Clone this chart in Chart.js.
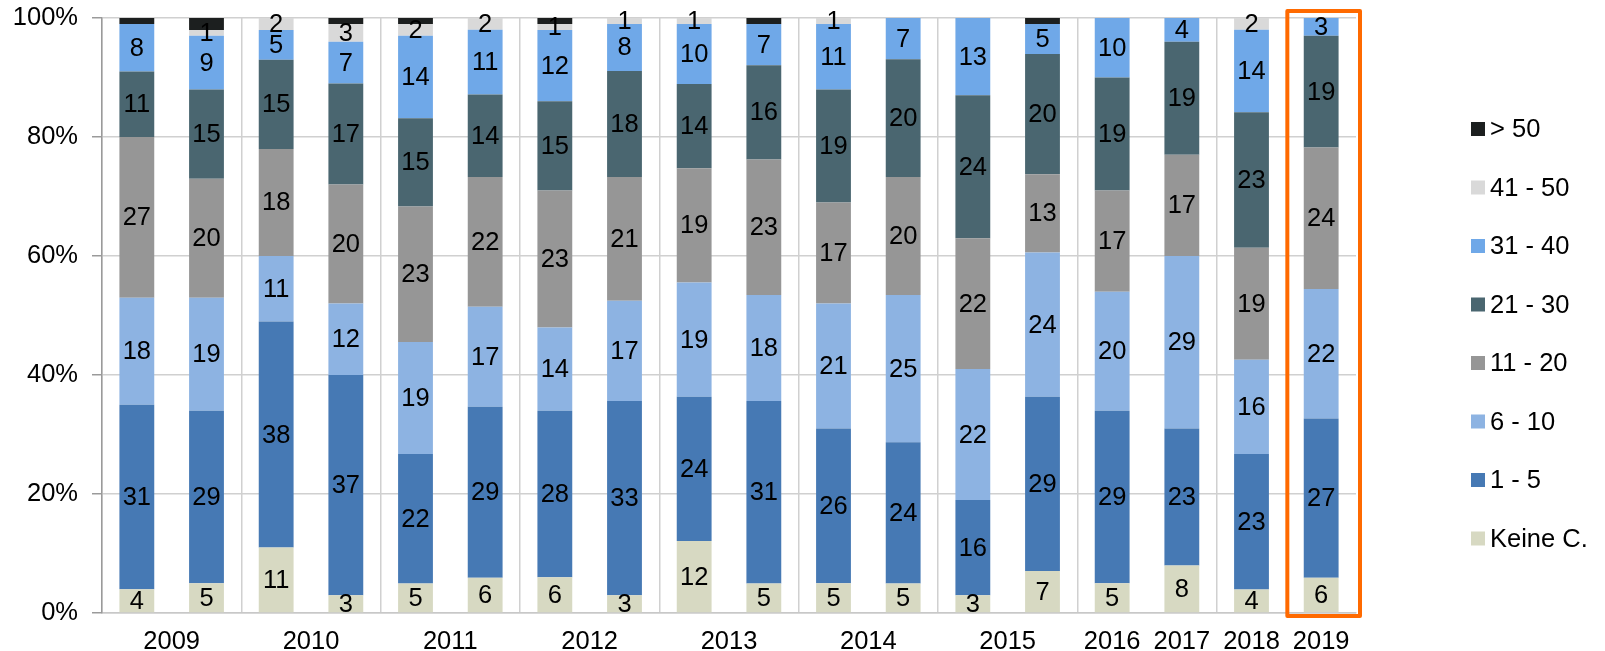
<!DOCTYPE html>
<html>
<head>
<meta charset="utf-8">
<title>Verteilung</title>
<script src="https://cdn.jsdelivr.net/npm/chart.js@4"></script>
<style>
    html, body { margin: 0; padding: 0; background: #ffffff; }
    #wrap { width: 1605px; height: 651px; position: relative; }
</style>
</head>
<body>
<div id="wrap"><canvas id="main-chart"></canvas></div>
<script>
// Categories (two surveys for 2009 - 2015, one from 2016 on)
const categories = ['2009', '2009', '2010', '2010', '2011', '2011', '2012', '2012', '2013', '2013',
                    '2014', '2014', '2015', '2015', '2016', '2017', '2018', '2019'];
const highlightYear = '2019';

// Series labels, bottom of the stack first
const seriesLabels = ['Keine C.', '1 - 5', '6 - 10', '11 - 20', '21 - 30', '31 - 40', '41 - 50', '> 50'];
const seriesColors = ['#d7d9c2', '#4679b4', '#8db3e2', '#969696', '#4a6670', '#6fa8e8', '#d9d9d9', '#1c1f1f'];

// Values in percent
const keineC  = [4, 5, 11, 3, 5, 6, 6, 3, 12, 5, 5, 5, 3, 7, 5, 8, 4, 6];
const s1to5   = [31, 29, 38, 37, 22, 29, 28, 33, 24, 31, 26, 24, 16, 29, 29, 23, 23, 27];
const s6to10  = [18, 19, 11, 12, 19, 17, 14, 17, 19, 18, 21, 25, 22, 24, 20, 29, 16, 22];
const s11to20 = [27, 20, 18, 20, 23, 22, 23, 21, 19, 23, 17, 20, 22, 13, 17, 17, 19, 24];
const s21to30 = [11, 15, 15, 17, 15, 14, 15, 18, 14, 16, 19, 20, 24, 20, 19, 19, 23, 19];
const s31to40 = [8, 9, 5, 7, 14, 11, 12, 8, 10, 7, 11, 7, 13, 5, 10, 4, 14, 3];
const s41to50 = [0, 1, 2, 3, 2, 2, 1, 1, 1, 0, 1, 0, 0, 0, 0, 0, 2, 0];
const over50  = [1, 2, 0, 1, 1, 0, 1, 0, 0, 1, 0, 0, 0, 1, 0, 0, 0, 0];

// Y axis ticks
const yTicks = [0, 20, 40, 60, 80, 100];

const FONT = "'Liberation Sans', Arial, sans-serif";
const FONT_SIZE = 25.5;
const series = [keineC, s1to5, s6to10, s11to20, s21to30, s31to40, s41to50, over50];

// Scale every column to 100 % (100% stacked bars)
function normalize(allSeries) {
    const totals = categories.map((c, i) => allSeries.reduce((sum, s) => sum + s[i], 0));
    return allSeries.map(s => s.map((v, i) => v / totals[i] * 100));
}

// Value labels in the middle of each segment
const segmentLabels = {
    id: 'segmentLabels',
    afterDatasetsDraw(chart) {
        const ctx = chart.ctx;
        ctx.save();
        ctx.font = FONT_SIZE + 'px ' + FONT;
        ctx.fillStyle = '#000000';
        ctx.textAlign = 'center';
        ctx.textBaseline = 'middle';
        chart.data.datasets.forEach((ds, di) => {
            if (di === series.length - 1) return; // black segments carry no visible label
            chart.getDatasetMeta(di).data.forEach((el, i) => {
                const v = ds.raw[i];
                if (!v) return;
                ctx.fillText(String(v), el.x, (el.y + el.base) / 2 + 1);
            });
        });
        ctx.restore();
    }
};

// Year labels centred under their bars, legend and highlight frame
const extras = {
    id: 'extras',
    afterDraw(chart) {
        const ctx = chart.ctx;
        const xs = chart.scales.x;
        const area = chart.chartArea;

        ctx.save();
        ctx.font = FONT_SIZE + 'px ' + FONT;
        ctx.fillStyle = '#000000';
        ctx.textAlign = 'center';
        ctx.textBaseline = 'middle';
        let start = 0;
        for (let i = 1; i <= categories.length; i++) {
            if (i === categories.length || categories[i] !== categories[start]) {
                const x = (xs.getPixelForValue(start) + xs.getPixelForValue(i - 1)) / 2;
                ctx.fillText(categories[start], x, area.bottom + 29);
                start = i;
            }
        }

        // Legend, top item is the last series
        ctx.textAlign = 'left';
        for (let k = 0; k < seriesLabels.length; k++) {
            const idx = seriesLabels.length - 1 - k;
            const yc = 129 + k * 58.5;
            ctx.fillStyle = seriesColors[idx];
            ctx.fillRect(1471, yc - 7, 14, 14);
            ctx.fillStyle = '#000000';
            ctx.fillText(seriesLabels[idx], 1490, yc + 1);
        }

        // Orange frame round the highlighted year
        const hi = categories.indexOf(highlightYear);
        const half = (xs.getPixelForValue(1) - xs.getPixelForValue(0)) / 2;
        const cx = xs.getPixelForValue(hi);
        ctx.strokeStyle = '#ff6a00';
        ctx.lineWidth = 4;
        ctx.lineJoin = 'round';
        ctx.strokeRect(cx - half + 1, area.top - 7, 2 * half + 3, area.bottom - area.top + 10);
        ctx.restore();
    }
};

function initChart() {
    const ctx = document.getElementById('main-chart').getContext('2d');
    const normalized = normalize(series);

    const datasets = seriesLabels.map((label, i) => ({
        label: label,
        data: normalized[i],
        raw: series[i],
        backgroundColor: seriesColors[i],
        borderWidth: 0,
        barPercentage: 0.5,
        categoryPercentage: 1.0
    }));

    window.mainChart = new Chart(ctx, {
        type: 'bar',
        data: {
            labels: categories,
            datasets: datasets
        },
        options: {
            responsive: true,
            maintainAspectRatio: false,
            animation: false,
            layout: {
                padding: { left: 14, right: 249, top: 18, bottom: 38 }
            },
            plugins: {
                legend: { display: false },
                tooltip: { enabled: false }
            },
            scales: {
                x: {
                    stacked: true,
                    afterFit: (scale) => {
                        scale.height = 0;
                        scale.paddingLeft = 0;
                        scale.paddingRight = 0;
                    },
                    ticks: { display: false },
                    grid: {
                        offset: true,
                        drawTicks: false,
                        lineWidth: 1.5,
                        color: (c) => (c.index % 2 === 0 ? '#d0d0d0' : 'rgba(0,0,0,0)')
                    },
                    border: { display: true, color: '#c8c8c8', width: 1.5 }
                },
                y: {
                    stacked: true,
                    min: 0,
                    max: 100,
                    afterBuildTicks: (scale) => {
                        scale.ticks = yTicks.map(v => ({ value: v }));
                    },
                    afterFit: (scale) => {
                        scale.width = 88;
                        scale.paddingTop = 0;
                        scale.paddingBottom = 0;
                    },
                    ticks: {
                        color: '#000000',
                        font: { family: FONT, size: FONT_SIZE },
                        padding: 14,
                        callback: (v) => v + '%'
                    },
                    grid: {
                        color: '#d0d0d0',
                        lineWidth: 1.5,
                        tickLength: 10,
                        tickColor: '#9a9a9a'
                    },
                    border: { display: true, color: '#9a9a9a', width: 1.5 }
                }
            }
        },
        plugins: [segmentLabels, extras]
    });
}

document.addEventListener('DOMContentLoaded', initChart);
</script>
</body>
</html>
